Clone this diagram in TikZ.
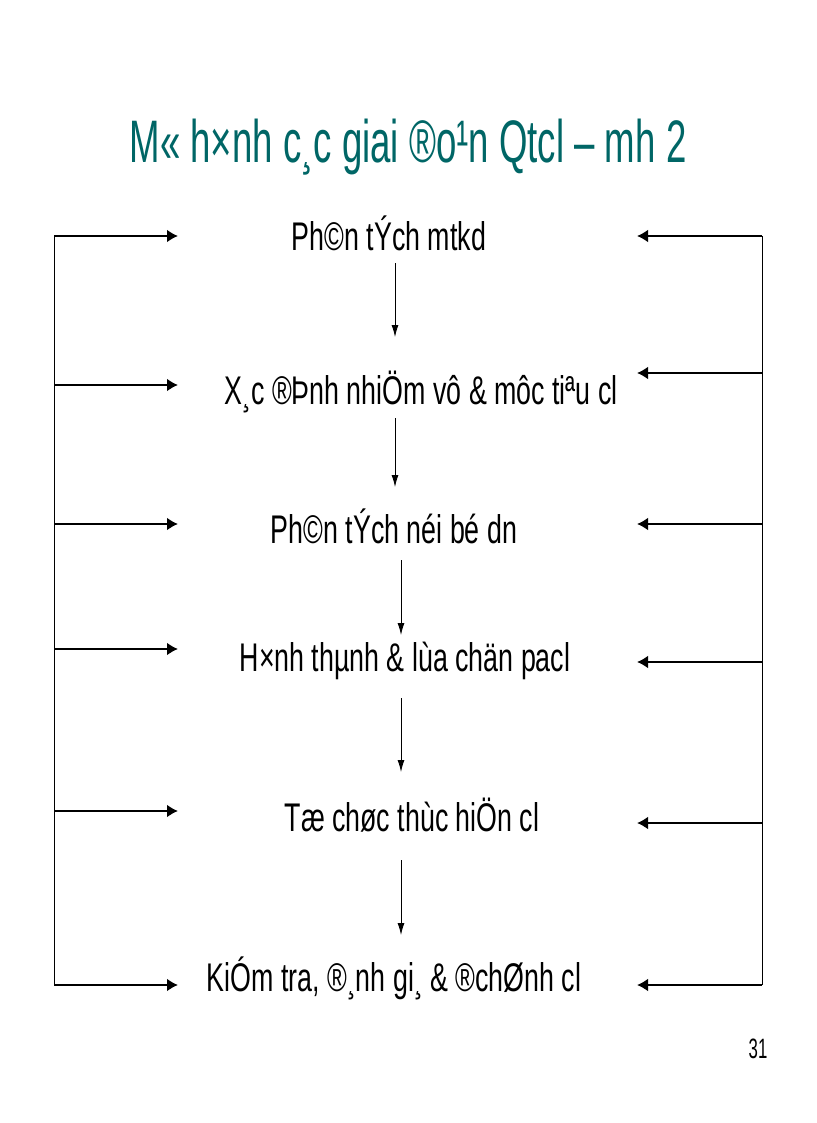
\documentclass[tikz,border=0pt]{standalone}
\usepackage{fontspec}
\usetikzlibrary{arrows.meta}
\newfontfamily\slidefont[FakeStretch=0.67]{Liberation Sans}
\newfontfamily\titlefont[FakeStretch=0.61]{Liberation Sans}
\newfontfamily\numfont[FakeStretch=0.6]{Liberation Sans}
\definecolor{titleteal}{RGB}{0,102,102}
\tikzset{
  steptext/.style={anchor=base,inner sep=0pt,font=\slidefont\fontsize{40}{44}\selectfont},
  sidearrow/.style={line width=2.4pt,-{Latex[length=11pt,width=13pt]}},
  downarrow/.style={line width=0.9pt,-{Latex[length=12pt,width=7pt]}},
  busline/.style={line width=1pt}
}

\begin{document}
\begin{tikzpicture}[x=1pt,y=-1pt]
    \useasboundingbox (0,0) rectangle (816,1123);

    \node[anchor=base,inner sep=0pt,text=titleteal,font=\titlefont\fontsize{60}{64}\selectfont]
      (title) at (408,163) {M« h×nh c¸c giai ®o¹n Qtcl – mh 2};

    \node[steptext] (ptmt) at (389,251) {Ph©n tÝch mtkd};
    \node[steptext] (xdnv) at (421,404) {X¸c ®Þnh nhiÖm vô \& môc tiªu cl};
    \node[steptext] (ptnb) at (394,543) {Ph©n tÝch néi bé dn};
    \node[steptext] (htpa) at (405,671) {H×nh thµnh \& lùa chän pacl};
    \node[steptext] (tcth) at (412,831) {Tæ chøc thùc hiÖn cl};
    \node[steptext] (ktdg) at (394,991) {KiÓm tra, ®¸nh gi¸ \& ®chØnh cl};

    \node[anchor=base,inner sep=0pt,font=\numfont\fontsize{28}{30}\selectfont]
      (pagenum) at (758,1058) {31};

    % vertical flow
    \coordinate (d1a) at (395,263); \coordinate (d1b) at (395,337);
    \coordinate (d2a) at (395,418); \coordinate (d2b) at (395,487);
    \coordinate (d3a) at (401,560); \coordinate (d3b) at (401,635);
    \coordinate (d4a) at (401,698); \coordinate (d4b) at (401,772);
    \coordinate (d5a) at (401,860); \coordinate (d5b) at (401,935);
    \foreach \i in {1,...,5}
      \draw[downarrow] (d\i a) -- (d\i b);

    % left feedback bus
    \coordinate (ltop) at (54,236); \coordinate (lbot) at (54,985);
    \draw[busline] (ltop) -- (lbot);
    \foreach \y [count=\i] in {236,385,524,649,811,985} {
      \coordinate (l\i) at (54,\y);
      \coordinate (le\i) at (178,\y);
      \draw[sidearrow] (l\i) -- (le\i);
    }

    % right feedback bus
    \coordinate (rtop) at (762,236); \coordinate (rbot) at (762,985);
    \draw[busline] (rtop) -- (rbot);
    \foreach \y [count=\i] in {236,373,524,662,823,985} {
      \coordinate (r\i) at (762,\y);
      \coordinate (re\i) at (637,\y);
      \draw[sidearrow] (r\i) -- (re\i);
    }
\end{tikzpicture}
\end{document}
